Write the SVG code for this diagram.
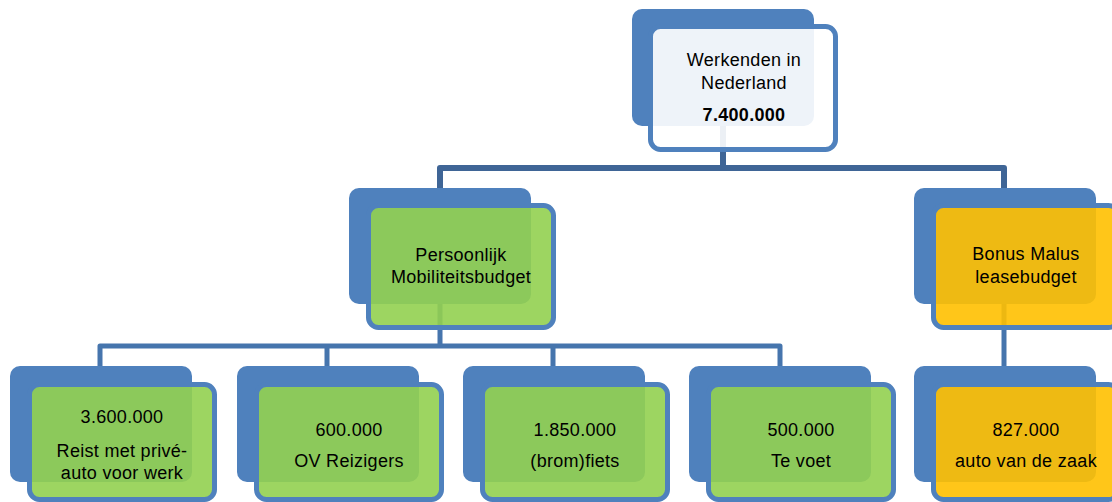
<svg xmlns="http://www.w3.org/2000/svg" width="1112" height="502" viewBox="0 0 1112 502">
<style>
.bg{fill:#ffffff}
.back{fill:#4F81BD}
.front{stroke:#4F81BD;stroke-width:5;fill-opacity:0.9}
.w{fill:#ffffff}
.g{fill:#92D050}
.y{fill:#FFC000}
.c1{fill:none;stroke:#3F6596;stroke-width:6;stroke-linejoin:round}
.c2{fill:none;stroke:#4675AD;stroke-width:5;stroke-linejoin:round}
text{font-family:"Liberation Sans",Arial,sans-serif;font-size:18px;fill:#000;text-anchor:middle;letter-spacing:0.3px}
.b{font-weight:bold}
</style>
<rect class="bg" x="0" y="0" width="1112" height="502"/>
<g id="connectors">
<path class="c1" d="M723 110 V168 M440 200 V168 H1004 V200"/>
<path class="c2" d="M440 300 V346 M100 380 V346 H780 V380 M327 346 V380 M553 346 V380"/>
<path class="c2" d="M1004 300 V380"/>
</g>
<g id="n-top">
<rect class="back" x="632" y="9" width="182" height="117" rx="10"/>
<rect class="front w" x="650.5" y="26.5" width="185" height="123" rx="10"/>
<text x="744" y="66">Werkenden in</text>
<text x="744" y="89">Nederland</text>
<text class="b" x="744" y="121">7.400.000</text>
</g>
<g id="n-pmb">
<rect class="back" x="349" y="188" width="182" height="116" rx="10"/>
<rect class="front g" x="368.5" y="205.5" width="185" height="122" rx="10"/>
<text x="461" y="261">Persoonlijk</text>
<text x="461" y="283">Mobiliteitsbudget</text>
</g>
<g id="n-bml">
<rect class="back" x="914" y="188" width="182" height="116" rx="10"/>
<rect class="front y" x="933.5" y="205.5" width="185" height="122" rx="10"/>
<text x="1026" y="260">Bonus Malus</text>
<text x="1026" y="283">leasebudget</text>
</g>
<g id="n-prive">
<rect class="back" x="10" y="366" width="182" height="116" rx="10"/>
<rect class="front g" x="29.5" y="384.5" width="185" height="115" rx="10"/>
<text x="122" y="423">3.600.000</text>
<text x="122" y="457">Reist met privé-</text>
<text x="122" y="479">auto voor werk</text>
</g>
<g id="n-ov">
<rect class="back" x="237" y="366" width="182" height="116" rx="10"/>
<rect class="front g" x="256.5" y="384.5" width="185" height="115" rx="10"/>
<text x="349" y="436">600.000</text>
<text x="349" y="467">OV Reizigers</text>
</g>
<g id="n-fiets">
<rect class="back" x="463" y="366" width="182" height="116" rx="10"/>
<rect class="front g" x="482.5" y="384.5" width="185" height="115" rx="10"/>
<text x="575" y="436">1.850.000</text>
<text x="575" y="467">(brom)fiets</text>
</g>
<g id="n-voet">
<rect class="back" x="689" y="366" width="182" height="116" rx="10"/>
<rect class="front g" x="708.5" y="384.5" width="185" height="115" rx="10"/>
<text x="801" y="436">500.000</text>
<text x="801" y="467">Te voet</text>
</g>
<g id="n-zaak">
<rect class="back" x="914" y="366" width="182" height="116" rx="10"/>
<rect class="front y" x="933.5" y="384.5" width="185" height="115" rx="10"/>
<text x="1026" y="436">827.000</text>
<text x="1026" y="467">auto van de zaak</text>
</g>
</svg>
